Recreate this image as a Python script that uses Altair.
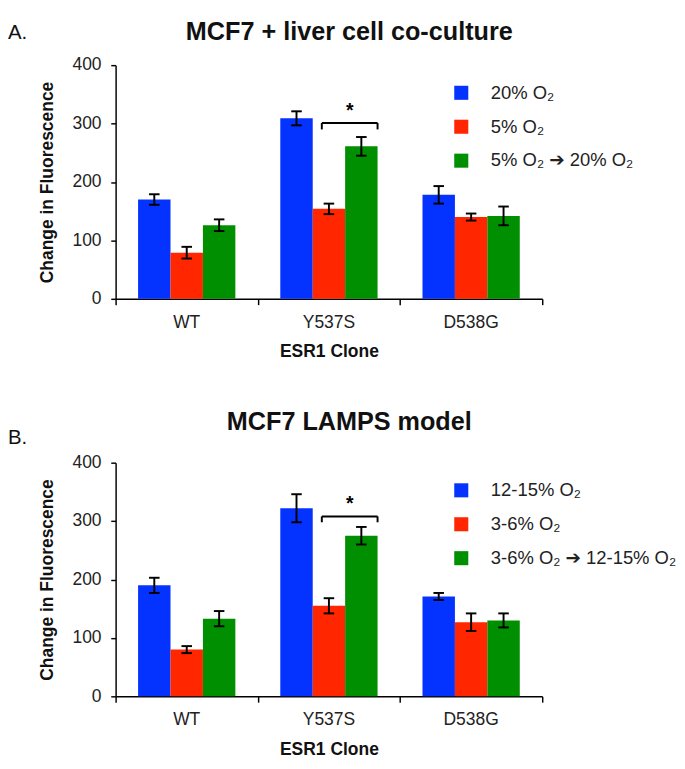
import altair as alt
import pandas as pd

# ---------------- data ----------------
clones = ["WT", "Y537S", "D538G"]

a_title = "MCF7 + liver cell co-culture"
a_conditions = ["20% O₂", "5% O₂", "5% O₂ ➔ 20% O₂"]
a_means = [[170, 309, 178], [79, 154, 140], [126, 261, 142]]
a_errors = [[9, 12, 15], [10, 9, 6], [10, 16, 16]]
a_bracket = [301, 290, 322]  # bracket line, leg bottom, asterisk (y values)

b_title = "MCF7 LAMPS model"
b_conditions = ["12-15% O₂", "3-6% O₂", "3-6% O₂ ➔ 12-15% O₂"]
b_means = [[190, 322, 171], [80, 155, 127], [133, 275, 130]]
b_errors = [[13, 24, 6], [6, 13, 15], [13, 15, 12]]
b_bracket = [308, 298, 329]

y_ticks = [0, 100, 200, 300, 400]
x_ticks = [0, 1, 2, 3]

# ---------------- style ----------------
colors = ["#0433FF", "#FF2600", "#008F00"]
FONT = "Liberation Sans, Arial, Helvetica, DejaVu Sans, sans-serif"
BAR_W = 0.228
CAP_W = 0.037
W, H = 440, 241


def panel(title, panel_label, conditions, means, errors, bracket, title_y, tag_y):
    rows = []
    for j, cond in enumerate(conditions):
        for i, clone in enumerate(clones):
            xc = i + 0.5 + (j - 1) * BAR_W
            m, e = means[j][i], errors[j][i]
            rows.append(dict(clone=clone, cond=cond, mean=m, base=0,
                             x0=xc - BAR_W / 2, x1=xc + BAR_W / 2, xc=xc,
                             lo=m - e, hi=m + e,
                             c0=xc - CAP_W, c1=xc + CAP_W))
    df = pd.DataFrame(rows)

    xs = alt.Scale(domain=[0, 3], nice=False, zero=False, padding=0)
    ys = alt.Scale(domain=[0, 400], nice=False, padding=0)
    xa = alt.Axis(values=x_ticks, labels=False, tickSize=6, tickWidth=1.5,
                  tickColor="black", domainColor="black", domainWidth=1.5,
                  grid=False, title="ESR1 Clone", titleFont=FONT,
                  titleFontSize=18, titleFontWeight="bold", titleColor="#111",
                  titlePadding=39)
    ya = alt.Axis(values=y_ticks, tickSize=5, tickWidth=1.5, tickColor="black",
                  domainColor="black", domainWidth=1.5, grid=False,
                  labelFont=FONT, labelFontSize=18, labelColor="#222",
                  labelPadding=10, title="Change in Fluorescence",
                  titleFont=FONT, titleFontSize=18, titleFontWeight="bold",
                  titleColor="#111", titlePadding=16)

    def X(f):
        return alt.X(f, type="quantitative", scale=xs, axis=xa)

    def Y(f):
        return alt.Y(f, type="quantitative", scale=ys, axis=ya)

    base = alt.Chart(df)
    bars = base.mark_bar(strokeWidth=0).encode(
        x=X("x0"), x2="x1", y=Y("mean"), y2="base",
        color=alt.Color("cond:N",
                        scale=alt.Scale(domain=conditions, range=colors),
                        legend=alt.Legend(orient="none", legendX=347, legendY=19,
                                          title=None, symbolType="square",
                                          symbolSize=210, symbolStrokeWidth=0,
                                          symbolOpacity=1,
                                          labelFont=FONT, labelFontSize=19,
                                          labelColor="#222", labelOffset=21,
                                          rowPadding=15, labelLimit=400)))
    err = base.mark_rule(color="black", strokeWidth=2).encode(
        x=X("xc"), y=Y("lo"), y2="hi")
    cap_hi = base.mark_rule(color="black", strokeWidth=2).encode(
        x=X("c0"), x2="c1", y=Y("hi"))
    cap_lo = base.mark_rule(color="black", strokeWidth=2).encode(
        x=X("c0"), x2="c1", y=Y("lo"))

    lab_df = pd.DataFrame({"clone": clones,
                           "pos": [i + 0.5 for i in range(len(clones))],
                           "zero": [0] * len(clones)})
    labels = alt.Chart(lab_df).mark_text(
        font=FONT, fontSize=18, color="#222", baseline="middle", dy=25
    ).encode(x=X("pos"), y=Y("zero"), text="clone:N")

    # significance bracket between conditions 2 and 3 of the middle clone
    bl = 1 + 0.5 - 0.05
    br = 1 + 0.5 + BAR_W + BAR_W / 2
    br_df = pd.DataFrame({"x0": [bl, bl, br], "x1": [br, bl, br],
                          "y0": [bracket[0], bracket[1], bracket[1]],
                          "y1": [bracket[0], bracket[0], bracket[0]]})
    brk = alt.Chart(br_df).mark_rule(color="black", strokeWidth=2).encode(
        x=X("x0"), x2="x1", y=Y("y0"), y2="y1")
    star_df = pd.DataFrame({"x": [(bl + br) / 2], "y": [bracket[2]], "t": ["*"]})
    star = alt.Chart(star_df).mark_text(
        font=FONT, fontSize=20, fontWeight="bold", color="black", baseline="middle"
    ).encode(x=X("x"), y=Y("y"), text="t:N")

    tag = alt.Chart(pd.DataFrame({"t": [panel_label]})).mark_text(
        font=FONT, fontSize=21, color="#111", align="left", baseline="middle"
    ).encode(x=alt.value(-111), y=alt.value(tag_y), text="t:N")

    ttl = alt.Chart(pd.DataFrame({"t": [title]})).mark_text(
        font=FONT, fontSize=26, fontWeight="bold", color="#111",
        align="center", baseline="middle"
    ).encode(x=alt.value(241), y=alt.value(title_y), text="t:N")

    return alt.layer(bars, err, cap_hi, cap_lo, labels, brk, star, tag, ttl).properties(
        width=W, height=H)


chart = alt.vconcat(
    panel(a_title, "A.", a_conditions, a_means, a_errors, a_bracket, -34, -33),
    panel(b_title, "B.", b_conditions, b_means, b_errors, b_bracket, -42, -25),
    spacing=169, bounds="flush",
).resolve_scale(color="independent", x="independent", y="independent"
).configure_view(stroke=None).properties(padding=0)

chart.save("out.html", embed_options={"renderer": "svg", "actions": False})
